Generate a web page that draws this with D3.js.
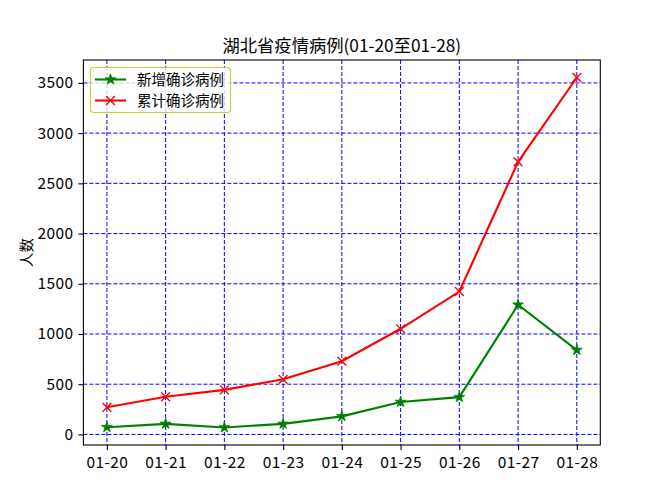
<!DOCTYPE html>
<html>
<head>
<meta charset="utf-8">
<script src="https://cdn.jsdelivr.net/npm/d3@7"></script>
<style>
body{margin:0;background:#fff;}
svg text{font-family:"Noto Sans CJK SC","DejaVu Sans",sans-serif;}
</style>
</head>
<body>
<div class="chart"></div>
<script>
// 湖北省疫情数据
var dates=['01-20','01-21','01-22','01-23','01-24','01-25','01-26','01-27','01-28'];
var newCases=[72,105,69,105,180,323,371,1291,840];
var totalCases=[270,375,444,549,729,1052,1423,2714,3554];
var yTicks=[0,500,1000,1500,2000,2500,3000,3500];
var seriesNames=['新增确诊病例','累计确诊病例'];

var width=667;
var height=500;
var pLeft=83.4,pRight=600.3,pTop=60,pBottom=445;

var svg=d3.select('div.chart')
		.append('svg')
		.attr('width',width)
		.attr('height',height);

var xScale=d3.scaleLinear()
			.domain([-0.4,dates.length-1+0.4])
			.range([pLeft,pRight]);
var yMin=d3.min(newCases),yMax=d3.max(totalCases);
var pad=(yMax-yMin)*0.05;
var yScale=d3.scaleLinear()
			.domain([yMin-pad,yMax+pad])
			.range([pBottom,pTop]);

//网格
var grid=svg.append('g');
grid.selectAll('.vgrid')
	.data(dates)
	.enter()
	.append('line')
	.attr('x1',function(d,i){return xScale(i);})
	.attr('x2',function(d,i){return xScale(i);})
	.attr('y1',pTop)
	.attr('y2',pBottom)
	.attr('stroke','#0000ff')
	.attr('stroke-width',1)
	.attr('stroke-dasharray','4,2');
grid.selectAll('.hgrid')
	.data(yTicks)
	.enter()
	.append('line')
	.attr('x1',pLeft)
	.attr('x2',pRight)
	.attr('y1',function(d){return yScale(d);})
	.attr('y2',function(d){return yScale(d);})
	.attr('stroke','#0000ff')
	.attr('stroke-width',1)
	.attr('stroke-dasharray','4,2');

//坐标轴
var xAxis=svg.append('g')
	.attr('transform','translate(0,'+pBottom+')')
	.call(d3.axisBottom(xScale)
		.tickValues(d3.range(dates.length))
		.tickFormat(function(d){return dates[d];})
		.tickSize(5)
		.tickPadding(5)
	);
var yAxis=svg.append('g')
	.attr('transform','translate('+pLeft+',0)')
	.call(d3.axisLeft(yScale)
		.tickValues(yTicks)
		.tickFormat(function(d){return d;})
		.tickSize(5)
		.tickPadding(5)
	);
[xAxis,yAxis].forEach(function(a){
	a.select('.domain').remove();
	a.selectAll('line').attr('stroke','#000').attr('stroke-width',1.1);
	a.selectAll('text')
		.attr('fill','#000')
		.style('font-size','15.5px')
		.style('letter-spacing','0.4px');
});
xAxis.selectAll('text').attr('dy','0.85em');

//折线
var series=[
	{name:seriesNames[0],values:newCases,color:'#008000',marker:'star'},
	{name:seriesNames[1],values:totalCases,color:'#ff0000',marker:'x'}
];
var line=d3.line()
	.x(function(d,i){return xScale(i);})
	.y(function(d){return yScale(d);});

function drawMarker(g,type,color){
	if(type=='star'){
		g.append('path')
			.attr('d',d3.symbol().type(d3.symbolStar).size(36)())
			.attr('fill',color)
			.attr('stroke',color)
			.attr('stroke-width',0.8);
	}else{
		var r=4.4;
		g.append('path')
			.attr('d','M'+(-r)+','+(-r)+'L'+r+','+r+'M'+(-r)+','+r+'L'+r+','+(-r))
			.attr('stroke',color)
			.attr('stroke-width',1.4)
			.attr('fill','none');
	}
}

series.forEach(function(s){
	svg.append('path')
		.datum(s.values)
		.attr('d',line)
		.attr('fill','none')
		.attr('stroke',s.color)
		.attr('stroke-width',2.1);
	s.values.forEach(function(v,i){
		var g=svg.append('g')
			.attr('transform','translate('+xScale(i)+','+yScale(v)+')');
		drawMarker(g,s.marker,s.color);
	});
});

//边框
svg.append('rect')
	.attr('x',pLeft)
	.attr('y',pTop)
	.attr('width',pRight-pLeft)
	.attr('height',pBottom-pTop)
	.attr('fill','none')
	.attr('stroke','#000')
	.attr('stroke-width',1.1);

//图例
var legend=svg.append('g');
legend.append('rect')
	.attr('x',90.5)
	.attr('y',67.5)
	.attr('width',140)
	.attr('height',45)
	.attr('rx',3)
	.attr('fill','#fff')
	.attr('fill-opacity',0.8)
	.attr('stroke','#cccc33')
	.attr('stroke-width',1.1);
series.forEach(function(s,i){
	var y=79.5+i*21;
	legend.append('line')
		.attr('x1',95)
		.attr('x2',126)
		.attr('y1',y)
		.attr('y2',y)
		.attr('stroke',s.color)
		.attr('stroke-width',2.1);
	var g=legend.append('g').attr('transform','translate(110.5,'+y+')');
	drawMarker(g,s.marker,s.color);
	legend.append('text')
		.attr('x',137)
		.attr('y',y)
		.attr('dy','0.36em')
		.style('font-size','14.5px')
		.text(s.name);
});

//标题
svg.append('text')
	.attr('x',(pLeft+pRight)/2)
	.attr('y',52)
	.attr('text-anchor','middle')
	.style('font-size','17.3px')
	.text('湖北省疫情病例(01-20至01-28)');

svg.append('text')
	.attr('transform','translate(32,'+((pTop+pBottom)/2)+') rotate(-90)')
	.attr('text-anchor','middle')
	.style('font-size','14.5px')
	.text('人数');
</script>
</body>
</html>
